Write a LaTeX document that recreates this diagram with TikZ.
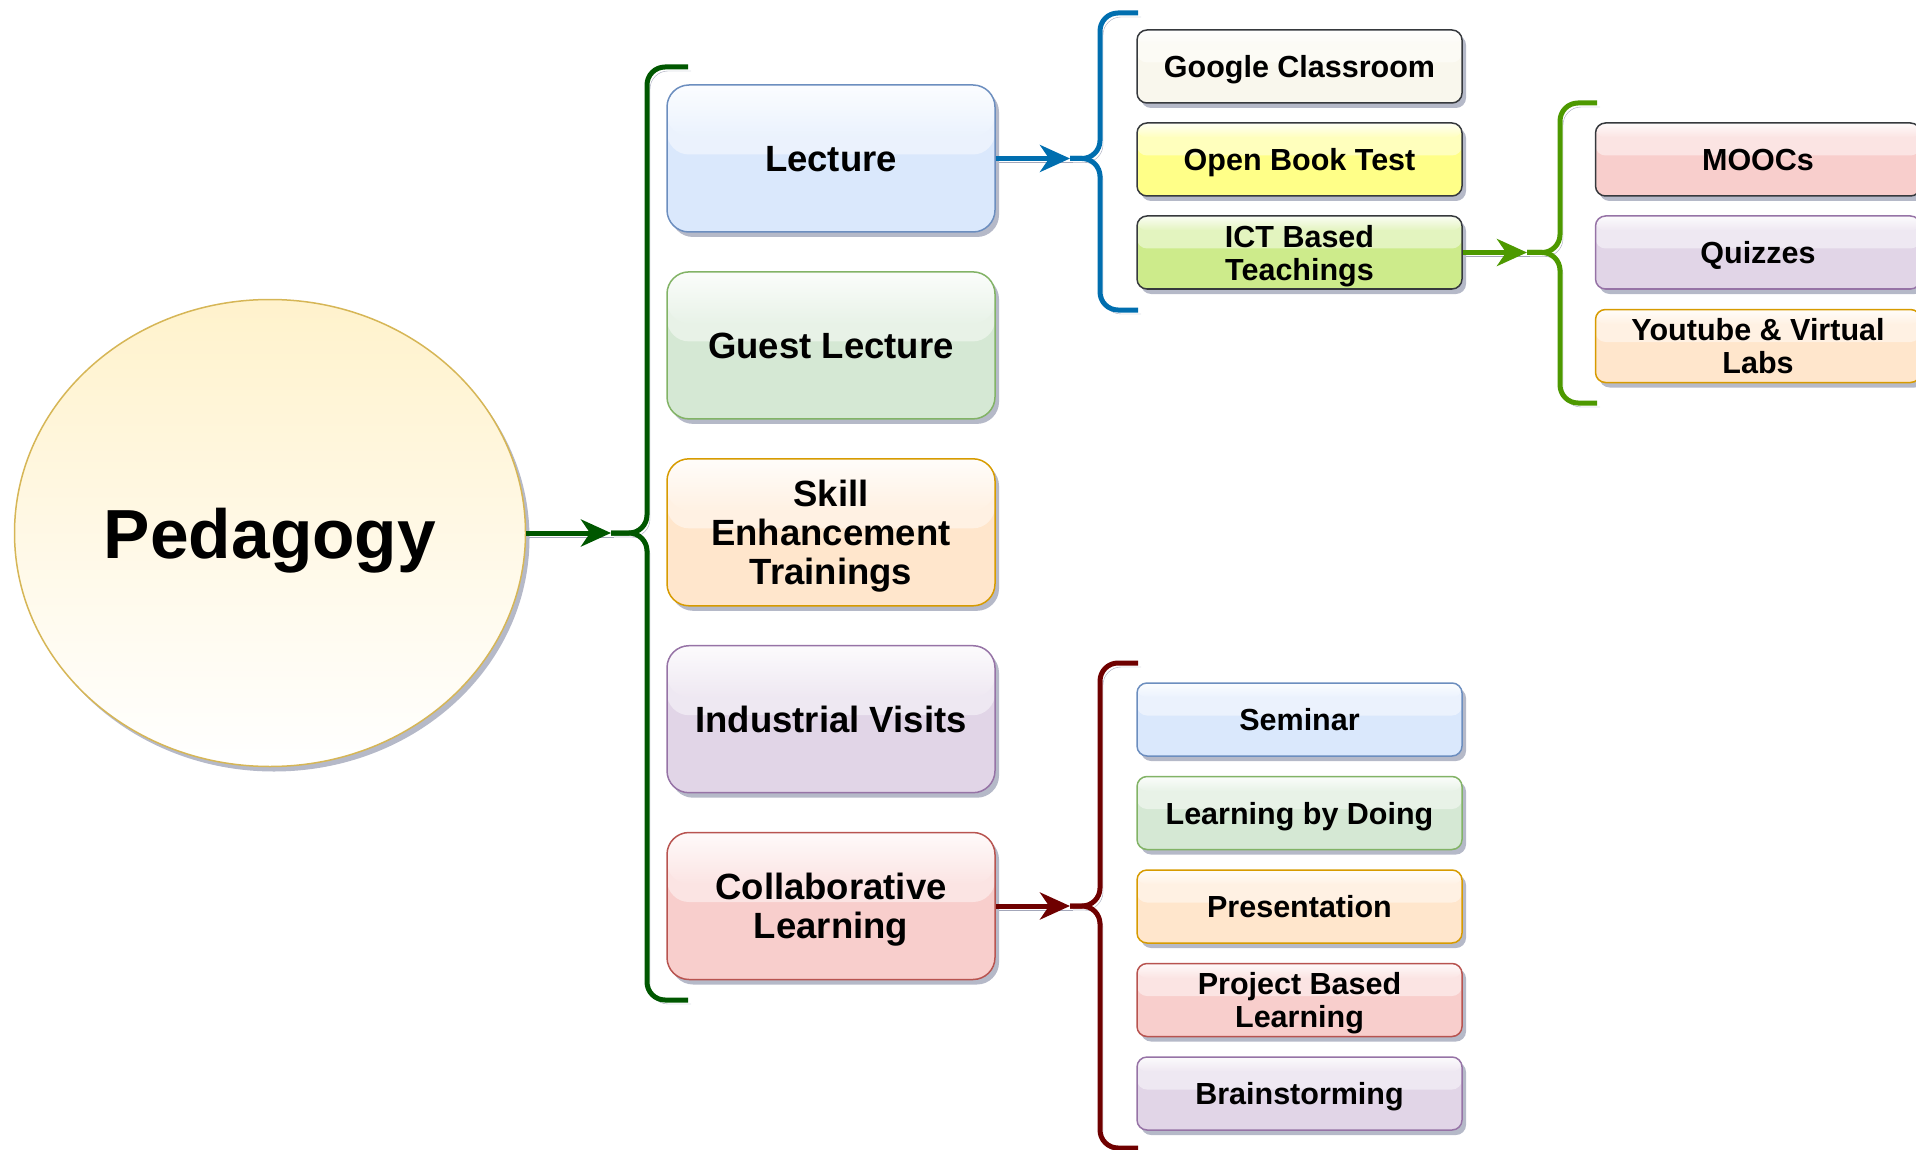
\documentclass[tikz,border=0pt]{standalone}
\usepackage{fontspec}
\setmainfont{Liberation Sans}
\usetikzlibrary{arrows.meta,shadows,shapes.geometric}

\definecolor{blueF}{HTML}{DAE8FC}\definecolor{blueD}{HTML}{6C8EBF}
\definecolor{greenF}{HTML}{D5E8D4}\definecolor{greenD}{HTML}{82B366}
\definecolor{orangeF}{HTML}{FFE6CC}\definecolor{orangeD}{HTML}{D79B00}
\definecolor{purpleF}{HTML}{E1D5E7}\definecolor{purpleD}{HTML}{9673A6}
\definecolor{redF}{HTML}{F8CECC}\definecolor{redD}{HTML}{B85450}
\definecolor{greyF}{HTML}{F9F7ED}\definecolor{darkD}{HTML}{36393D}
\definecolor{yellowF}{HTML}{FFFF88}\definecolor{limeF}{HTML}{CDEB8B}
\definecolor{pedF}{HTML}{FFF2CC}\definecolor{pedD}{HTML}{D6B656}
\definecolor{linkMain}{HTML}{005700}\definecolor{linkLec}{HTML}{006EAF}
\definecolor{linkIct}{HTML}{4D9900}\definecolor{linkCol}{HTML}{6F0000}
\definecolor{shadowc}{HTML}{A3A7BA}

\tikzset{
  glassbox/.style 2 args={draw=#2, line width=1.5pt, fill=#1, align=center, text depth=0pt,
    drop shadow={shadow xshift=4pt, shadow yshift=-5pt, fill=shadowc, opacity=.8},
    path picture={\fill[#1!55!white] (path picture bounding box.north west)
        rectangle ([yshift=4pt]path picture bounding box.east);
      \shade[top color=#1!10!white, bottom color=#1!55!white] (path picture bounding box.north west)
        rectangle ([yshift=22pt]path picture bounding box.east);}},
  topic/.style 2 args={glassbox={#1}{#2}, rounded corners=22pt,
    minimum width=328pt, minimum height=147pt, font=\fontsize{36.5}{39}\selectfont\bfseries},
  leaf/.style 2 args={glassbox={#1}{#2}, rounded corners=10pt,
    minimum width=325pt, minimum height=73pt, font=\fontsize{30.5}{33}\selectfont\bfseries},
  link/.style={draw=#1, line width=5pt, -{Stealth[length=30pt,width=27pt,inset=9pt]},
    preaction={draw=shadowc, -, transform canvas={shift={(3pt,-4pt)}}}},
  brace/.style={draw=#1, line width=5pt, rounded corners=18pt,
    preaction={draw=shadowc, transform canvas={shift={(3pt,-4pt)}}}},
}

\begin{document}
\begin{tikzpicture}[x=1pt,y=1pt]
    \useasboundingbox (0,0) rectangle (1916,-1150);
    % root
    \node [ellipse, draw=pedD, line width=1.5pt, top color=pedF, bottom color=white,
      minimum width=511pt, minimum height=467pt, inner sep=0pt, text depth=0pt,
      drop shadow={shadow xshift=4pt, shadow yshift=-5pt, fill=shadowc, opacity=.8},
      font=\fontsize{69.5}{80}\selectfont\bfseries] (ped) at (270,-533) {Pedagogy};
    % first level
    \node [topic={blueF}{blueD}] (lecture) at (831,-158.5) {Lecture};
    \node [topic={greenF}{greenD}] (guest) at (831,-345.4) {Guest Lecture};
    \node [topic={orangeF}{orangeD}] (skill) at (831,-532.3) {Skill\\Enhancement\\Trainings};
    \node [topic={purpleF}{purpleD}] (visits) at (831,-719.2) {Industrial Visits};
    \node [topic={redF}{redD}] (collab) at (831,-906) {Collaborative\\Learning};
    % lecture items
    \node [leaf={greyF}{darkD}] (google) at (1299.5,-66.5) {Google Classroom};
    \node [leaf={yellowF}{darkD}] (openbook) at (1299.5,-159.5) {Open Book Test};
    \node [leaf={limeF}{darkD}] (ict) at (1299.5,-252.5) {ICT Based\\Teachings};
    % ict items
    \node [leaf={redF}{darkD}] (moocs) at (1758,-159.5) {MOOCs};
    \node [leaf={purpleF}{purpleD}] (quiz) at (1758,-252.5) {Quizzes};
    \node [leaf={orangeF}{orangeD}] (youtube) at (1758,-346) {Youtube \& Virtual\\Labs};
    % collaborative items
    \node [leaf={blueF}{blueD}] (seminar) at (1299.5,-719.5) {Seminar};
    \node [leaf={greenF}{greenD}] (doing) at (1299.5,-813) {Learning by Doing};
    \node [leaf={orangeF}{orangeD}] (present) at (1299.5,-906.5) {Presentation};
    \node [leaf={redF}{redD}] (project) at (1299.5,-1000) {Project Based\\Learning};
    \node [leaf={purpleF}{purpleD}] (brain) at (1299.5,-1093.5) {Brainstorming};
    % brace tips
    \coordinate (mainbr) at (611,-533);
    \coordinate (lecbr) at (1070,-158.5);
    \coordinate (ictbr) at (1527,-252.5);
    \coordinate (colbr) at (1070,-906);
    % braces
    \draw [brace=linkMain] (mainbr) -- (647,-533) -- (647,-67) -- (688,-67);
    \draw [brace=linkMain] (mainbr) -- (647,-533) -- (647,-1000) -- (688,-1000);
    \draw [brace=linkLec] (lecbr) -- (1100,-158.5) -- (1100,-13) -- (1138,-13);
    \draw [brace=linkLec] (lecbr) -- (1100,-158.5) -- (1100,-310) -- (1138,-310);
    \draw [brace=linkIct] (ictbr) -- (1560,-252.5) -- (1560,-103) -- (1597,-103);
    \draw [brace=linkIct] (ictbr) -- (1560,-252.5) -- (1560,-403) -- (1597,-403);
    \draw [brace=linkCol] (colbr) -- (1100,-906) -- (1100,-663) -- (1138,-663);
    \draw [brace=linkCol] (colbr) -- (1100,-906) -- (1100,-1148) -- (1138,-1148);
    % arrows
    \draw [link=linkMain] (ped) -- (mainbr);
    \draw [link=linkLec] (lecture) -- (lecbr);
    \draw [link=linkIct] (ict) -- (ictbr);
    \draw [link=linkCol] (collab) -- (colbr);
\end{tikzpicture}
\end{document}
